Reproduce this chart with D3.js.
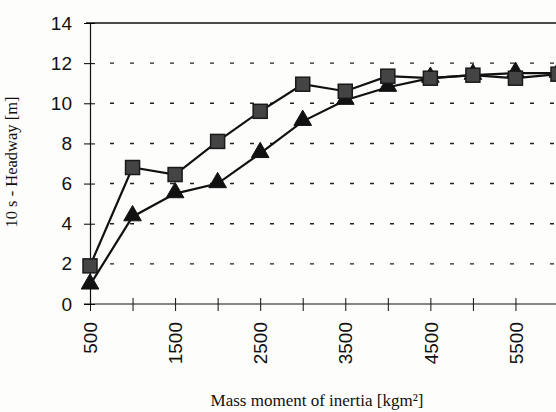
<!DOCTYPE html>
<html>
<head>
<meta charset="utf-8">
<script src="https://cdn.jsdelivr.net/npm/d3@7"></script>
<style>
  body { margin: 0; background: #fdfdfb; }
  svg { display: block; }
</style>
</head>
<body>
<div id="chart"></div>
<script>
// Werte
const inertia = [500, 1000, 1500, 2000, 2500, 3000, 3500, 4000, 4500, 5000, 5500, 6000];
const squareSeries = [1.9, 6.8, 6.45, 8.1, 9.6, 10.95, 10.6, 11.35, 11.25, 11.4, 11.25, 11.45];
const triangleSeries = [0.95, 4.35, 5.5, 6.0, 7.5, 9.1, 10.15, 10.8, 11.25, 11.4, 11.5, 11.5];
const yTicks = [0, 2, 4, 6, 8, 10, 12, 14];
const xLabels = [500, 1500, 2500, 3500, 4500, 5500];

const width = 556, height = 412;
const svg = d3.select("#chart").append("svg")
    .attr("width", width)
    .attr("height", height);

// Skalen
const x = d3.scaleLinear().domain([500, 6000]).range([90, 558]);
const y = d3.scaleLinear().domain([0, 14]).range([304, 23]);

// gestrichelte Gitterlinien
svg.append("g")
    .selectAll("line")
    .data(yTicks.filter(d => d > 0 && d < 14))
    .join("line")
    .attr("x1", x(500) + 20)
    .attr("x2", width)
    .attr("y1", d => y(d))
    .attr("y2", d => y(d))
    .attr("stroke", "#222")
    .attr("stroke-width", 1.4)
    .attr("stroke-dasharray", "4,16");

// obere Rahmenlinie
svg.append("line")
    .attr("x1", x(500) - 4)
    .attr("x2", width)
    .attr("y1", y(14))
    .attr("y2", y(14))
    .attr("stroke", "#111")
    .attr("stroke-width", 1.5);

// Y-Achse
const yAxis = svg.append("g")
    .attr("transform", "translate(" + x(500) + ",0)")
    .call(d3.axisLeft(y).tickValues(yTicks).tickSize(6).tickPadding(12).tickSizeOuter(0));
yAxis.selectAll(".tick line").attr("x2", 5).attr("x1", -6);
yAxis.select(".domain").attr("stroke", "#111").attr("stroke-width", 1.2);
yAxis.selectAll("text")
    .attr("font-family", "Liberation Sans, Arial, sans-serif")
    .attr("font-size", 19)
    .attr("fill", "#111");

// X-Achse
const xAxis = svg.append("g")
    .attr("transform", "translate(0," + y(0) + ")")
    .call(d3.axisBottom(x).tickValues(inertia).tickSize(6).tickSizeOuter(0)
        .tickFormat(d => xLabels.includes(d) ? d : ""));
xAxis.select(".domain").attr("stroke", "#111").attr("stroke-width", 1.2)
    .attr("d", "M" + (x(500) - 6) + ",0H" + width);
xAxis.selectAll(".tick line").attr("y1", -6).attr("y2", 7).attr("stroke", "#111");
xAxis.selectAll("text")
    .attr("font-family", "Liberation Sans, Arial, sans-serif")
    .attr("font-size", 19)
    .attr("fill", "#111")
    .attr("transform", "rotate(-90)")
    .attr("text-anchor", "end")
    .attr("dy", "0.35em")
    .attr("x", -18)
    .attr("y", 0);

// Achsentitel
svg.append("text")
    .attr("transform", "translate(17,162) rotate(-90)")
    .attr("text-anchor", "middle")
    .attr("font-family", "Liberation Serif, Times New Roman, serif")
    .attr("font-size", 16.5)
    .attr("fill", "#111")
    .text("10 s - Headway [m]");

svg.append("text")
    .attr("x", 317)
    .attr("y", 406)
    .attr("text-anchor", "middle")
    .attr("font-family", "Liberation Serif, Times New Roman, serif")
    .attr("font-size", 17)
    .attr("fill", "#111")
    .text("Mass moment of inertia [kgm²]");

// Linien
const line = d3.line()
    .x((d, i) => x(inertia[i]))
    .y(d => y(d));

svg.append("path")
    .datum(triangleSeries)
    .attr("d", line)
    .attr("fill", "none")
    .attr("stroke", "#111")
    .attr("stroke-width", 2.2);

svg.append("path")
    .datum(squareSeries)
    .attr("d", line)
    .attr("fill", "none")
    .attr("stroke", "#111")
    .attr("stroke-width", 2.2);

// Dreiecke
svg.append("g")
    .selectAll("path")
    .data(triangleSeries)
    .join("path")
    .attr("d", d3.symbol().type(d3.symbolTriangle).size(135))
    .attr("transform", (d, i) => "translate(" + x(inertia[i]) + "," + (y(d) - 1) + ")")
    .attr("fill", "#111")
    .attr("stroke", "#111")
    .attr("stroke-width", 1);

// Quadrate
svg.append("g")
    .selectAll("rect")
    .data(squareSeries)
    .join("rect")
    .attr("x", (d, i) => x(inertia[i]) - 7)
    .attr("y", d => y(d) - 7)
    .attr("width", 14)
    .attr("height", 14)
    .attr("fill", "#444")
    .attr("stroke", "#1a1a1a")
    .attr("stroke-width", 1.5);
</script>
</body>
</html>
